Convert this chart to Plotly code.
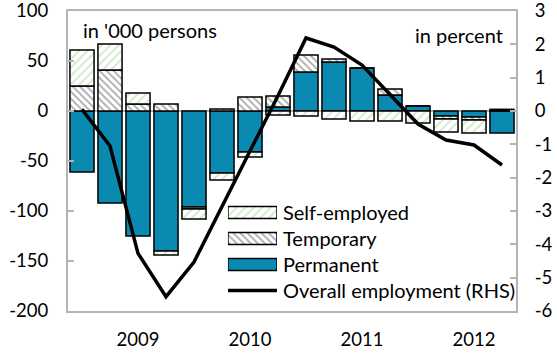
import plotly.graph_objects as go

# Quarterly change in employment by contract type ('000 persons) and overall employment growth (%)
quarters = ["2008Q3", "2008Q4",
            "2009Q1", "2009Q2", "2009Q3", "2009Q4",
            "2010Q1", "2010Q2", "2010Q3", "2010Q4",
            "2011Q1", "2011Q2", "2011Q3", "2011Q4",
            "2012Q1", "2012Q2"]
permanent = [-61, -92, -125, -140, -96, -62, -41, 4, 39, 49, 43, 16, 5, -5, -6, -22]
temporary = [25, 41, 7, 7, -2, 2, 14, 11, 17, 3, 0, 6, 0, -3, -3, 1.5]
self_employed = [36, 26, 11, -4, -10, -7, -5, -4, -5, -8, -10, -10, -12, -13, -13, 0]
overall_pct = [0.05, -1.05, -4.27, -5.57, -4.53, -2.87, -1.2, 0.46, 2.19, 1.92,
               1.38, 0.48, -0.39, -0.87, -1.02, -1.62]

year_ticks = ["2009Q1", "2010Q1", "2011Q1", "2012Q1"]
year_labels = ["2009", "2010", "2011", "2012"]
left_ticks = [100, 50, 0, -50, -100, -150, -200]
left_labels = ["100", "50", "0", "-50", "-100", "-150", "-200"]
right_ticks = [3, 2, 1, 0, -1, -2, -3, -4, -5, -6]
right_labels = ["3", "2", "1", "0", "-1", "-2", "-3", "-4", "-5", "-6"]

legend_names = ["Self-employed", "Temporary", "Permanent", "Overall employment (RHS)"]

BLUE = "#0a8ab0"
GREY = "#b4b4b4"
FONT = "Lato"
TICK_FS = 18.5
TEXT_FS = 20

outline = dict(color="black", width=1.5)
temp_pattern = dict(shape="\\", fgcolor="#5a5a5a", bgcolor="white", size=5, solidity=0.35)
self_pattern = dict(shape="/", fgcolor="#9fd08f", bgcolor="white", size=6, solidity=0.3)

fig = go.Figure()

fig.add_trace(go.Bar(x=quarters, y=permanent, name="Permanent",
                     marker=dict(color=BLUE, line=outline), showlegend=False))
fig.add_trace(go.Bar(x=quarters, y=temporary, name="Temporary",
                     marker=dict(color="white", line=outline, pattern=temp_pattern),
                     showlegend=False))
fig.add_trace(go.Bar(x=quarters, y=self_employed, name="Self-employed",
                     marker=dict(color="white", line=outline, pattern=self_pattern),
                     showlegend=False))
fig.add_trace(go.Scatter(x=quarters, y=overall_pct, yaxis="y2", mode="lines",
                         name="Overall employment (RHS)",
                         line=dict(color="black", width=3.5), showlegend=False))

# Key drawn as wide swatches on a small auxiliary axis pair
fig.add_trace(go.Bar(x=[1], y=[3], base=[0], orientation="h", width=0.46,
                     xaxis="x3", yaxis="y3", showlegend=False, hoverinfo="skip",
                     marker=dict(color="white", line=outline, pattern=self_pattern)))
fig.add_trace(go.Bar(x=[1], y=[2], base=[0], orientation="h", width=0.46,
                     xaxis="x3", yaxis="y3", showlegend=False, hoverinfo="skip",
                     marker=dict(color="white", line=outline, pattern=temp_pattern)))
fig.add_trace(go.Bar(x=[1], y=[1], base=[0], orientation="h", width=0.46,
                     xaxis="x3", yaxis="y3", showlegend=False, hoverinfo="skip",
                     marker=dict(color=BLUE, line=outline)))
fig.add_trace(go.Scatter(x=[0, 1], y=[0, 0], mode="lines", xaxis="x3", yaxis="y3",
                         showlegend=False, hoverinfo="skip",
                         line=dict(color="black", width=3.5)))

annotations = []
for i, name in enumerate(legend_names):
    annotations.append(dict(text=name, xref="paper", yref="y3", x=0.4755, y=3 - i,
                            xanchor="left", yanchor="middle", showarrow=False,
                            font=dict(family=FONT, size=TEXT_FS, color="black")))
annotations.append(dict(text="in '000 persons", xref="paper", yref="paper",
                        x=0.028, y=0.937, xanchor="left", yanchor="middle",
                        showarrow=False, font=dict(family=FONT, size=TEXT_FS, color="black")))
annotations.append(dict(text="in percent", xref="paper", yref="paper",
                        x=0.975, y=0.92, xanchor="right", yanchor="middle",
                        showarrow=False, font=dict(family=FONT, size=TEXT_FS, color="black")))

fig.update_layout(
    width=557, height=354,
    margin=dict(l=68, r=41, t=11, b=43),
    paper_bgcolor="white", plot_bgcolor="white",
    barmode="relative", bargap=0.14,
    font=dict(family=FONT, size=TICK_FS, color="black"),
    annotations=annotations,
    xaxis=dict(type="category", range=[-0.5, 15.5], tickvals=year_ticks,
               ticktext=year_labels, ticks="", showgrid=False, zeroline=False,
               showline=True, linecolor=GREY, linewidth=2, mirror=True,
               ticklabelstandoff=11, automargin=False, ticklabeloverflow="allow"),
    yaxis=dict(range=[-200, 100], tickvals=left_ticks, ticktext=left_labels,
               showgrid=False, zeroline=True,
               zerolinecolor=GREY, zerolinewidth=2, showline=True, linecolor=GREY,
               linewidth=2, ticks="inside", ticklen=6, tickcolor=GREY, tickwidth=1.5,
               layer="above traces", ticklabelstandoff=14, automargin=False,
               ticklabeloverflow="allow"),
    yaxis2=dict(range=[-6, 3], tickvals=right_ticks, ticktext=right_labels,
                overlaying="y", side="right", showgrid=False,
                zeroline=False, showline=True, linecolor=GREY, linewidth=2,
                ticks="inside", ticklen=6, tickcolor=GREY, tickwidth=1.5,
                ticklabelstandoff=13, automargin=False, ticklabeloverflow="allow"),
    xaxis3=dict(domain=[0.357, 0.4665], range=[0, 1], anchor="y3", visible=False,
                fixedrange=True),
    yaxis3=dict(domain=[0.025, 0.372], range=[-0.5, 3.5], anchor="x3", visible=False,
                fixedrange=True),
)

fig.write_html("out.html")
